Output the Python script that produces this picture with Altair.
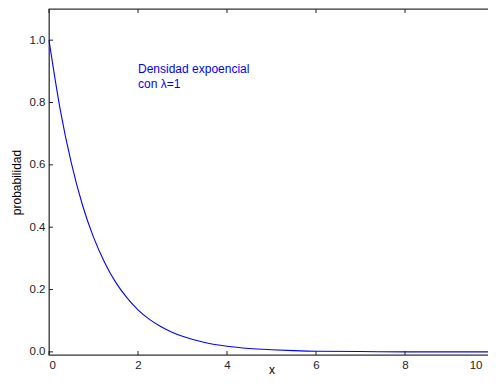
import altair as alt
import pandas as pd

# values
xs = [0, 0.25, 0.5, 0.75, 1.0, 1.25, 1.5, 1.75, 2.0, 2.25, 2.5, 2.75, 3.0,
      3.5, 4.0, 4.5, 5.0, 5.5, 6.0, 7.0, 8.0, 9.0, 10.0]
ys = [1.000, 0.779, 0.607, 0.472, 0.368, 0.287, 0.223, 0.174, 0.135, 0.105,
      0.082, 0.064, 0.050, 0.030, 0.018, 0.011, 0.007, 0.004, 0.002, 0.001,
      0.000, 0.000, 0.000]
x_ticks = [0, 2, 4, 6, 8, 10]
y_ticks = [0.0, 0.2, 0.4, 0.6, 0.8, 1.0]
label_lines = ["Densidad expoencial", "con λ=1"]
label_x = [2.0]
label_y = [0.845]

W, H = 445, 346
FONT = "Liberation Sans"

df = pd.DataFrame({"x": xs, "y": ys})
xt = pd.DataFrame({"t": x_ticks})
yt = pd.DataFrame({"t": y_ticks})
ann = pd.DataFrame({"x": label_x, "y": label_y, "txt": [label_lines]})

xscale = alt.Scale(domain=[0, 10], nice=False, zero=False)
yscale = alt.Scale(domain=[-0.01, 1.1], nice=False, zero=False)

line = alt.Chart(df).mark_line(color="#0000ff", strokeWidth=1.1, interpolate="monotone").encode(
    x=alt.X("x:Q", scale=xscale,
            axis=alt.Axis(values=x_ticks, format="d", title="x", ticks=False, domain=False,
                          grid=False, labelPadding=4,
                          labelOffset={"condition": {"test": "datum.value == 10", "value": -12},
                                       "value": 0},
                          titleBaseline="alphabetic", titleY=18)),
    y=alt.Y("y:Q", scale=yscale,
            axis=alt.Axis(values=y_ticks, format=".1f", title="probabilidad", ticks=False,
                          domain=False, grid=False, labelPadding=4, titlePadding=6)),
)

tb = alt.Chart(xt).mark_rule(color="#222", strokeWidth=1).encode(
    x=alt.X("t:Q", scale=xscale), y=alt.value(H), y2=alt.value(H - 4))
tt = alt.Chart(xt).mark_rule(color="#222", strokeWidth=1).encode(
    x=alt.X("t:Q", scale=xscale), y=alt.value(0), y2=alt.value(4))
tl = alt.Chart(yt).mark_rule(color="#222", strokeWidth=1).encode(
    y=alt.Y("t:Q", scale=yscale), x=alt.value(0), x2=alt.value(4))
tr = alt.Chart(yt).mark_rule(color="#222", strokeWidth=1).encode(
    y=alt.Y("t:Q", scale=yscale), x=alt.value(W), x2=alt.value(W - 4))

text = alt.Chart(ann).mark_text(
    align="left", baseline="alphabetic", color="#0000ff", font=FONT, fontSize=12,
    lineHeight=15, dy=-15
).encode(x=alt.X("x:Q", scale=xscale), y=alt.Y("y:Q", scale=yscale), text="txt")

chart = alt.layer(line, tb, tt, tl, tr, text).properties(
    width=W, height=H,
    background="white",
    autosize=alt.AutoSizeParams(type="none"),
    padding={"left": 41, "top": 1, "right": -6, "bottom": 22},
).configure_view(stroke="#333", strokeWidth=1.3).configure_axis(
    labelFont=FONT, titleFont=FONT, labelFontSize=11.5, titleFontSize=12,
    labelColor="#222", titleColor="#000", titleFontWeight="normal",
)

chart.save("out.html", embed_options={"renderer": "svg", "actions": False})
